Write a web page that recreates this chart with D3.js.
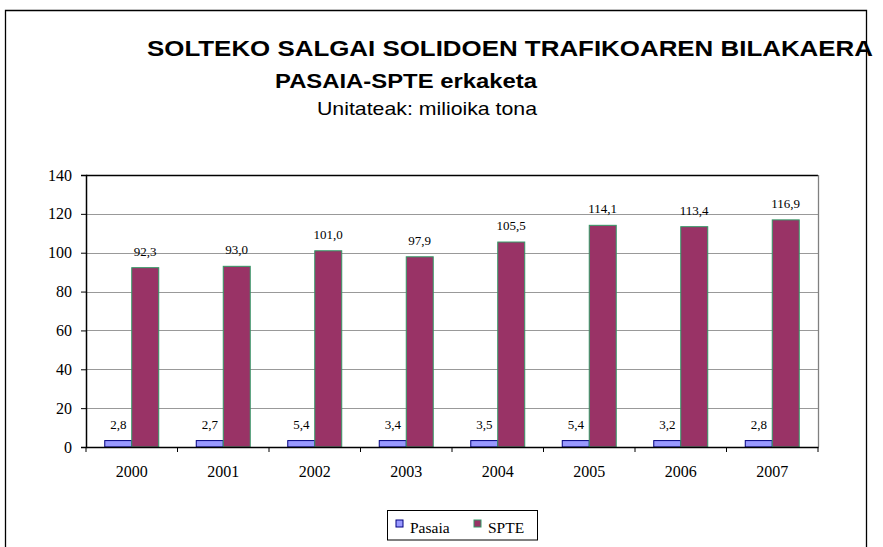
<!DOCTYPE html>
<html><head><meta charset="utf-8">
<script src="https://cdn.jsdelivr.net/npm/d3@7"></script>
<style>body{margin:0;background:#fff}svg{display:block}</style>
</head><body>
<svg id="c" width="883" height="547"></svg>
<script>
const years = ["2000","2001","2002","2003","2004","2005","2006","2007"];
const pasaiaLabels = ["2,8","2,7","5,4","3,4","3,5","5,4","3,2","2,8"];
const pasaiaBars = [3.3,3.3,3.3,3.3,3.3,3.3,3.3,3.3];
const spteValues = [92.3,93.0,101.0,97.9,105.5,114.1,113.4,116.9];
const spteLabels = ["92,3","93,0","101,0","97,9","105,5","114,1","113,4","116,9"];
const yTicks = [0,20,40,60,80,100,120,140];
const seriesNames = ["Pasaia","SPTE"];

const svg = d3.select("#c");
const W=883,H=547;
const L=86,R=818,T=175,B=447;
const serif = "Liberation Serif, Times New Roman, serif";
const sans = "Liberation Sans, Arial, sans-serif";

// outer border
svg.append("path").attr("d",`M5.5,${H} V10.5 H866.5 V${H}`).attr("fill","none").attr("stroke","#000").attr("stroke-width",1.3);

// titles
svg.append("text").attr("x",147).attr("y",56).attr("font-family",sans)
  .attr("font-weight","bold").attr("font-size",22).attr("textLength",726).attr("lengthAdjust","spacingAndGlyphs")
  .text("SOLTEKO SALGAI SOLIDOEN TRAFIKOAREN BILAKAERA");
svg.append("text").attr("x",275).attr("y",88).attr("font-family",sans)
  .attr("font-weight","bold").attr("font-size",20).attr("textLength",262).attr("lengthAdjust","spacingAndGlyphs")
  .text("PASAIA-SPTE erkaketa");
svg.append("text").attr("x",317).attr("y",115).attr("font-family",sans)
  .attr("font-size",19).attr("textLength",220).attr("lengthAdjust","spacingAndGlyphs")
  .text("Unitateak: milioika tona");

const x = d3.scaleBand().domain(years).range([L,R]).paddingInner(0).paddingOuter(0);
const y = d3.scaleLinear().domain([0,140]).range([B,T]);
const barW = x.bandwidth()*0.295;

// gridlines
svg.append("g").selectAll("line").data(yTicks.filter(v=>v>0 && v<140)).join("line")
  .attr("x1",L).attr("x2",R).attr("y1",d=>Math.round(y(d))+0.5).attr("y2",d=>Math.round(y(d))+0.5)
  .attr("stroke","#999").attr("stroke-width",1);
// plot top and right border
svg.append("line").attr("x1",L).attr("x2",R).attr("y1",T+0.5).attr("y2",T+0.5).attr("stroke","#000").attr("stroke-width",1.5);
svg.append("line").attr("x1",R+0.5).attr("x2",R+0.5).attr("y1",T).attr("y2",B).attr("stroke","#808080").attr("stroke-width",1.3);

const g = svg.append("g");
years.forEach((yr,i)=>{
  const c = x(yr)+x.bandwidth()/2;
  g.append("rect").attr("x",c-barW).attr("y",y(pasaiaBars[i])).attr("width",barW).attr("height",B-y(pasaiaBars[i]))
    .attr("fill","#9999FF").attr("stroke","#000080").attr("stroke-width",1);
  g.append("rect").attr("x",c).attr("y",y(spteValues[i])).attr("width",barW).attr("height",B-y(spteValues[i]))
    .attr("fill","#993366").attr("stroke","#339966").attr("stroke-width",1);
  g.append("text").attr("x",c-barW/2).attr("y",y(pasaiaBars[i])-12).attr("text-anchor","middle")
    .attr("font-family",serif).attr("font-size",13).text(pasaiaLabels[i]);
  g.append("text").attr("x",c+barW/2).attr("y",y(spteValues[i])-12).attr("text-anchor","middle")
    .attr("font-family",serif).attr("font-size",13).text(spteLabels[i]);
});

// y axis
const ya = svg.append("g").attr("transform",`translate(${L},0)`)
  .call(d3.axisLeft(y).tickValues(yTicks).tickSize(5).tickPadding(9).tickFormat(d3.format("d")));
ya.select(".domain").attr("stroke","#000").attr("stroke-width",1.5);
ya.selectAll("text").attr("font-family",serif).attr("font-size",16).attr("fill","#000");

// x axis
const xa = svg.append("g").attr("transform",`translate(0,${B})`)
  .call(d3.axisBottom(x).tickSize(0).tickPadding(19));
xa.select(".domain").attr("stroke","#000").attr("stroke-width",1.5);
xa.selectAll("text").attr("font-family",serif).attr("font-size",16).attr("fill","#000");
xa.selectAll("line.sep").data(years.map(d=>x(d)).concat([R])).join("line").attr("class","sep")
  .attr("x1",d=>d).attr("x2",d=>d).attr("y1",0).attr("y2",5).attr("stroke","#000").attr("stroke-width",1);

// legend
const lg = svg.append("g");
lg.append("rect").attr("x",387.5).attr("y",510.5).attr("width",150).attr("height",29.5).attr("fill","#fff").attr("stroke","#000");
const legItems = [{n:seriesNames[0],f:"#9999FF",s:"#000080",x:396,tx:410},{n:seriesNames[1],f:"#993366",s:"#339966",x:474,tx:488}];
legItems.forEach(d=>{
  lg.append("rect").attr("x",d.x).attr("y",520).attr("width",7).attr("height",7).attr("fill",d.f).attr("stroke",d.s);
  lg.append("text").attr("x",d.tx).attr("y",533).attr("font-family",serif).attr("font-size",15.5).text(d.n);
});
</script>
</body></html>
